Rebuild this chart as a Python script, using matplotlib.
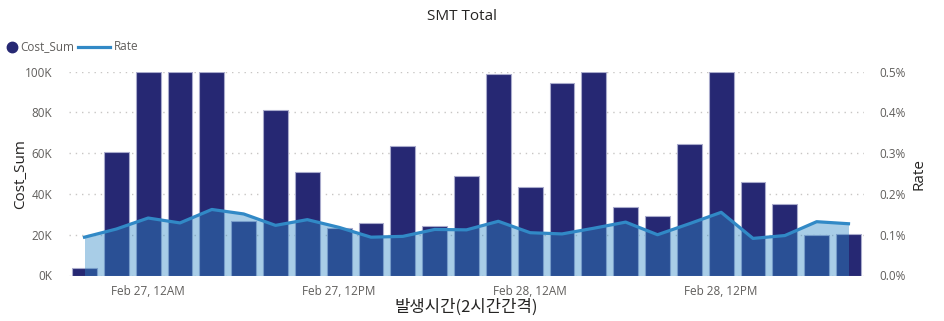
import numpy as np
import matplotlib.pyplot as plt
from matplotlib.lines import Line2D
from matplotlib.ticker import FuncFormatter

# 2-hour buckets, Feb 26 20:00 .. Feb 28 20:00
slots = list(range(25))
cost_sum = [3600, 60800, 100000, 100000, 100000, 26500, 81400, 50600, 23200,
            25600, 63400, 24500, 49000, 98900, 43300, 94500, 100000, 33500,
            29100, 64600, 100000, 45800, 35100, 19900, 20400]
rate = [0.094, 0.114, 0.141, 0.129, 0.162, 0.151, 0.123, 0.137, 0.118,
        0.094, 0.096, 0.113, 0.112, 0.133, 0.105, 0.102, 0.116, 0.131,
        0.100, 0.127, 0.155, 0.091, 0.098, 0.132, 0.127]
tick_pos = [2, 8, 14, 20]
tick_labels = ["Feb 27, 12AM", "Feb 27, 12PM", "Feb 28, 12AM", "Feb 28, 12PM"]

bar_color = "#262873"
line_color = "#3189c6"
txt = "#605e5c"
dark = "#252423"
font = ["Open Sans", "DejaVu Sans"]
kfont = ["Noto Sans CJK KR", "DejaVu Sans"]
plt.rcParams["font.family"] = font

W, H = 944, 321
fig = plt.figure(figsize=(W / 100, H / 100), dpi=100)
unit = 31.83
x0 = 84.5 - 0.5 * unit
x1 = 848.5 + 0.5 * unit
ax = fig.add_axes([x0 / W, (H - 275.5) / H, (x1 - x0) / W, (275.5 - 71.7) / H])

ax.bar(slots, cost_sum, width=0.785, color=bar_color, edgecolor="#a9abcc",
       linewidth=0.8, zorder=2)
ax.set_xlim(-0.5, 24.5)
ax.set_ylim(0, 100000)
ax.set_yticks(np.arange(0, 100001, 20000))
ax.yaxis.set_major_formatter(FuncFormatter(lambda v, p: f"{int(v / 1000)}K"))
ax.grid(axis="y", color="#c8c6c4", linestyle=(0, (1, 3.5)), linewidth=1, zorder=0)
ax.set_axisbelow(True)
ax.set_xticks(tick_pos)
ax.set_xticklabels(tick_labels)
ax.tick_params(axis="both", length=0, labelsize=8.5, labelcolor=txt)
ax.tick_params(axis="x", pad=7)
ax.tick_params(axis="y", pad=12)
for s in ax.spines.values():
    s.set_visible(False)
ax.set_ylabel("Cost_Sum", fontsize=11, color=dark, labelpad=-3)
ax.set_xlabel("발생시간(2시간간격)", fontsize=12, color=dark, family=kfont, labelpad=0)

ax2 = ax.twinx()
ax2.fill_between(slots, rate, 0, color=line_color, alpha=0.42, linewidth=0, zorder=3)
ax2.plot(slots, rate, color=line_color, linewidth=2.3, zorder=4)
ax2.set_ylim(0, 0.5)
ax2.set_yticks(np.arange(0, 0.51, 0.1))
ax2.yaxis.set_major_formatter(FuncFormatter(lambda v, p: f"{v:.1f}%"))
ax2.tick_params(axis="y", length=0, labelsize=8.5, labelcolor=txt, pad=11)
for s in ax2.spines.values():
    s.set_visible(False)
ax2.set_ylabel("Rate", fontsize=11, color=dark, labelpad=4)

fig.text(462 / W, 1 - 17 / H, "SMT Total", ha="center", va="center",
         fontsize=11, color=dark)

# legend drawn by hand: dot + text, short line + text
ly = 1 - 47 / H
fig.add_artist(Line2D([12 / W], [ly], marker="o", markersize=7.5,
                      color=bar_color, linestyle=""))
fig.text(20 / W, ly, "Cost_Sum", ha="left", va="center", fontsize=8.5, color=txt)
fig.add_artist(Line2D([78 / W, 110 / W], [ly, ly], color=line_color, linewidth=2.3))
fig.text(114 / W, ly, "Rate", ha="left", va="center", fontsize=8.5, color=txt)

fig.savefig("out.png", dpi=100)
